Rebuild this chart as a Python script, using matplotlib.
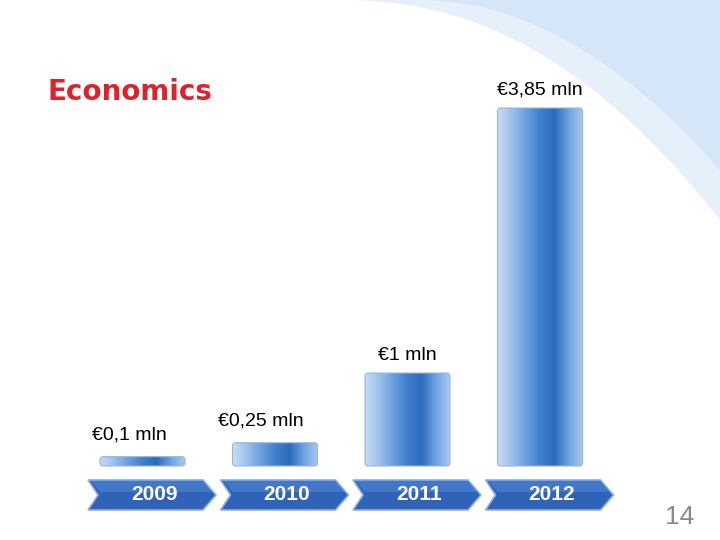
import matplotlib
matplotlib.use("Agg")
import matplotlib.pyplot as plt
import numpy as np
from matplotlib.patches import Polygon, FancyBboxPatch
from matplotlib.colors import LinearSegmentedColormap

plt.rcParams['font.family'] = ['Liberation Sans', 'DejaVu Sans']

years = ["2009", "2010", "2011", "2012"]
values = [0.1, 0.25, 1.0, 3.85]
labels = ["€0,1 mln", "€0,25 mln", "€1 mln", "€3,85 mln"]

fig = plt.figure(figsize=(7.2, 5.4), dpi=100)
ax = fig.add_axes([0, 0, 1, 1])
ax.set_xlim(0, 720)
ax.set_ylim(540, 0)
ax.axis("off")

# background swoosh top right
t = np.linspace(0, 1, 100)
xs = 340 + 380 * t
ys = 0 + 220 * t ** 2.2
ax.add_patch(Polygon(np.column_stack([np.r_[xs, 720, 340], np.r_[ys, 0, 0]]),
                     closed=True, facecolor="#e6f0fb", edgecolor="none", zorder=0))
xs2 = 420 + 300 * t
ys2 = 0 + 170 * t ** 2
ax.add_patch(Polygon(np.column_stack([np.r_[xs2, 720, 420], np.r_[ys2, 0, 0]]),
                     closed=True, facecolor="#d6e6f9", edgecolor="none", zorder=0))

ax.text(48, 92, "Economics", color="#e0202a", fontsize=20, fontweight="bold",
        va="center", ha="left", family="DejaVu Sans")

cmap = LinearSegmentedColormap.from_list(
    "bar", ["#c8dcf4", "#9cc0ea", "#6a9fdc", "#3f7fcc", "#2a6bbd", "#6fa2de", "#a9c9ef"])
grad = np.linspace(0, 1, 256).reshape(1, -1)

base = 466
max_h = 358
left0, step, width = 100, 132.5, 85
for i, (yr, v, lab) in enumerate(zip(years, values, labels)):
    x0 = left0 + i * step
    h = max(v / max(values) * max_h, 6)
    top = base - h
    patch = FancyBboxPatch((x0, top), width, h, boxstyle="round,pad=0,rounding_size=3",
                           facecolor="none", edgecolor="#9ab5d8", lw=0.8, zorder=3)
    ax.add_patch(patch)
    im = ax.imshow(grad, cmap=cmap, extent=(x0, x0 + width, base, top),
                   aspect="auto", zorder=2)
    im.set_clip_path(patch)
    if i == 0:
        ax.text(x0 + width / 2 - 50, top - 22, lab, fontsize=14, ha="left", va="center")
    elif i == 1:
        ax.text(x0 - 14, top - 22, lab, fontsize=14, ha="left", va="center")
    else:
        ax.text(x0 + width / 2, top - 18, lab, fontsize=14, ha="center", va="center")
    # chevron
    cx = x0 - 12
    pts = [(cx, 480), (cx + 115, 480), (cx + 128, 495), (cx + 115, 510), (cx, 510), (cx + 10, 495)]
    ax.add_patch(Polygon(pts, closed=True, facecolor="#2f63b8", edgecolor="#8fb0e0",
                         lw=1.2, zorder=2))
    ax.add_patch(Polygon([(cx + 3, 481), (cx + 114, 481), (cx + 124, 492), (cx + 12, 492)],
                         closed=True, facecolor="#4f86d6", edgecolor="none", zorder=2, alpha=0.6))
    ax.text(cx + 66, 495, yr, color="white", fontsize=15, fontweight="bold",
            ha="center", va="center", zorder=4)

ax.text(680, 517, "14", color="#8a8a8a", fontsize=19, ha="center", va="center")

fig.savefig("out.png", dpi=100)
